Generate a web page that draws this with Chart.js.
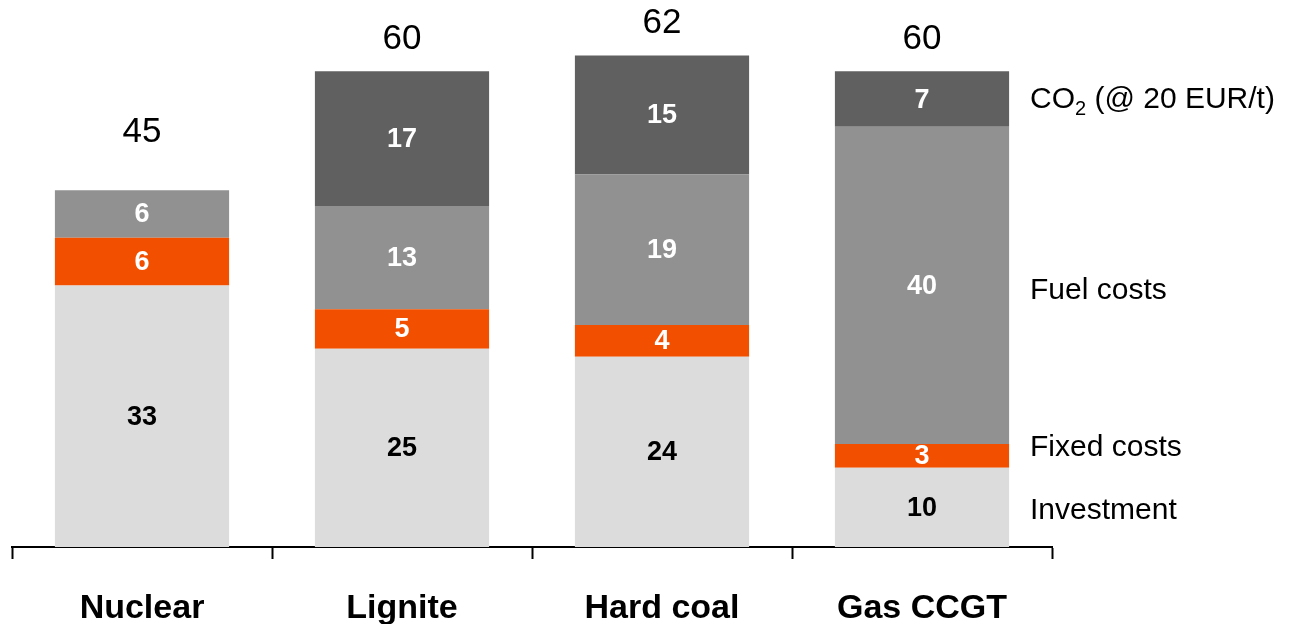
<!DOCTYPE html>
<html>
<head>
<meta charset="utf-8">
<script src="https://cdn.jsdelivr.net/npm/chart.js@4"></script>
<style>
html,body{margin:0;padding:0;background:#fff;}
#wrap{width:1292px;height:624px;position:relative;}
</style>
</head>
<body>
<div id="wrap"><canvas id="c" width="1292" height="624"></canvas></div>
<script>
const categories = ['Nuclear', 'Lignite', 'Hard coal', 'Gas CCGT'];
const investment = [33, 25, 24, 10];
const fixedCosts = [6, 5, 4, 3];
const fuelCosts = [6, 13, 19, 40];
const co2Costs = [0, 17, 15, 7];
const totals = [45, 60, 62, 60];
const seriesNames = ['Investment', 'Fixed costs', 'Fuel costs', 'CO2 (@ 20 EUR/t)'];

const colors = ['#DCDCDC', '#F25000', '#919191', '#606060'];
const labelColors = ['#000000', '#FFFFFF', '#FFFFFF', '#FFFFFF'];
const seriesData = [investment, fixedCosts, fuelCosts, co2Costs];

const FONT = '"Liberation Sans", Arial, Helvetica, sans-serif';

const labelPlugin = {
  id: 'labels',
  afterDatasetsDraw(chart) {
    const ctx = chart.ctx;
    ctx.save();
    ctx.textAlign = 'center';
    ctx.textBaseline = 'middle';
    // segment labels
    chart.data.datasets.forEach((ds, di) => {
      const meta = chart.getDatasetMeta(di);
      meta.data.forEach((bar, i) => {
        const v = ds.data[i];
        if (!v) return;
        const p = bar.getProps(['x', 'y', 'base'], true);
        ctx.fillStyle = labelColors[di];
        ctx.font = 'bold 27px ' + FONT;
        ctx.fillText(String(v), p.x, (p.y + p.base) / 2 + 1);
      });
    });
    // totals
    const topMeta = chart.getDatasetMeta(chart.data.datasets.length - 1);
    const yScale = chart.scales.y;
    const totalOffsets = [58, 32, 32, 32];
    topMeta.data.forEach((bar, i) => {
      const yTop = yScale.getPixelForValue(totals[i]);
      ctx.fillStyle = '#000';
      ctx.font = '35px ' + FONT;
      ctx.fillText(String(totals[i]), bar.x, yTop - totalOffsets[i]);
    });
    // right-side series labels, aligned with last bar segments
    const last = categories.length - 1;
    const dy = [3, -8, 5, 1];
    ctx.textAlign = 'left';
    const xr = chart.chartArea.right - 22;
    chart.data.datasets.forEach((ds, di) => {
      const bar = chart.getDatasetMeta(di).data[last];
      const p = bar.getProps(['y', 'base'], true);
      const yc = (p.y + p.base) / 2 + dy[di];
      ctx.fillStyle = '#000';
      ctx.font = '30px ' + FONT;
      if (di === 3) {
        let x = xr;
        ctx.fillText('CO', x, yc);
        x += ctx.measureText('CO').width;
        ctx.font = '20px ' + FONT;
        ctx.fillText('2', x, yc + 9);
        x += ctx.measureText('2').width;
        ctx.font = '30px ' + FONT;
        ctx.fillText(' (@ 20 EUR/t)', x, yc);
      } else {
        ctx.fillText(seriesNames[di], xr, yc);
      }
    });
    ctx.restore();
  }
};

new Chart(document.getElementById('c'), {
  type: 'bar',
  data: {
    labels: categories,
    datasets: seriesData.map((d, i) => ({
      label: seriesNames[i],
      data: d,
      backgroundColor: colors[i],
      borderWidth: 0,
      categoryPercentage: 1.0,
      barPercentage: 0.67
    }))
  },
  options: {
    responsive: false,
    animation: false,
    layout: { padding: { left: 12, right: 240, top: 0, bottom: 0 } },
    plugins: { legend: { display: false }, tooltip: { enabled: false } },
    scales: {
      x: {
        stacked: true,
        offset: true,
        afterFit(scale) { scale.height = 77; },
        grid: {
          offset: true,
          drawOnChartArea: false,
          drawTicks: true,
          tickLength: 12,
          tickWidth: 2,
          color: '#000'
        },
        border: { display: true, color: '#000', width: 2 },
        ticks: {
          color: '#000',
          padding: 29,
          font: { family: FONT, size: 34, weight: 'bold' }
        }
      },
      y: {
        stacked: true,
        display: false,
        min: 0,
        max: 69
      }
    }
  },
  plugins: [labelPlugin]
});
</script>
</body>
</html>
